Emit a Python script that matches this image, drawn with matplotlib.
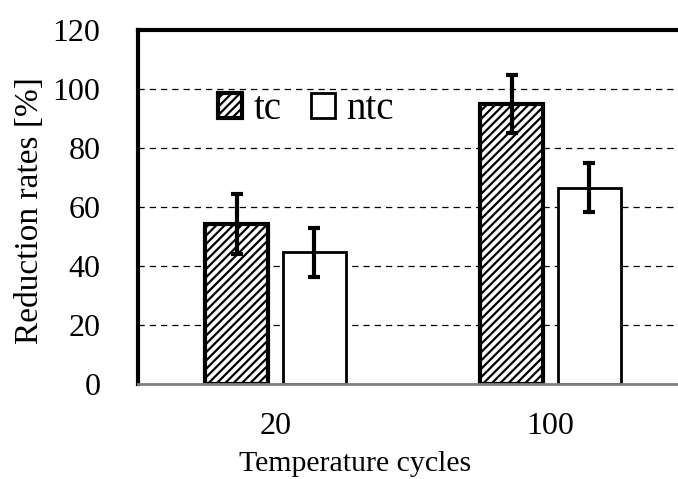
import matplotlib
matplotlib.use("Agg")
import matplotlib.pyplot as plt
import numpy as np

plt.rcParams['font.family'] = ['Liberation Serif', 'DejaVu Serif']
plt.rcParams['hatch.linewidth'] = 1.6

# data
cycles = ["20", "100"]
tc = [54.2, 95.0]
tc_err = [10.2, 9.8]
ntc = [44.6, 66.6]
ntc_err = [8.2, 8.2]

x = np.arange(len(cycles))
w = 0.23
off = 0.141

fig = plt.figure(figsize=(6.78, 4.79), dpi=100)
ax = fig.add_axes([0.2035, 0.1983, 0.7965, 0.7391])

ax.bar(x - off, tc, w, color="white", edgecolor="black", linewidth=3,
       hatch="////", label="tc", zorder=2)
ax.bar(x + off, ntc, w, color="white", edgecolor="black", linewidth=2,
       label="ntc", zorder=2)
ax.errorbar(x - off, tc, yerr=tc_err, fmt="none", ecolor="black",
            elinewidth=3, capsize=4, capthick=3, zorder=3)
ax.errorbar(x + off, ntc, yerr=ntc_err, fmt="none", ecolor="black",
            elinewidth=3, capsize=4, capthick=3, zorder=3)

ax.set_ylim(0, 120)
ax.set_xlim(-0.50, 1.463)
ax.set_yticks(np.arange(0, 121, 20))
ax.set_xticks(x)
ax.set_xticklabels(cycles)
ax.tick_params(axis="both", length=0, labelsize=23)
ax.tick_params(axis="y", pad=27)
ax.tick_params(axis="x", pad=20)

for yv in range(20, 101, 20):
    ax.axhline(yv, color="black", lw=0.9, ls=(0, (5, 4)), zorder=1)

ax.spines["right"].set_visible(False)
ax.spines["top"].set_linewidth(3)
ax.spines["left"].set_linewidth(3)
ax.spines["bottom"].set_color("#808080")
ax.spines["bottom"].set_linewidth(2)

fig.text(355 / 678, 1 - 464 / 479, "Temperature cycles", fontsize=21.5,
         ha="center", va="center")
fig.text(30 / 678, 1 - 211 / 479, "Reduction rates [%]", fontsize=24,
         ha="center", va="center", rotation=90)

ax.legend(loc="center left", bbox_to_anchor=(0.148, 0.775), ncol=2,
          frameon=False, fontsize=28, handlelength=0.62, handleheight=0.62,
          handletextpad=0.3, columnspacing=0.75, borderpad=0, borderaxespad=0)

fig.savefig("out.png", dpi=100)
